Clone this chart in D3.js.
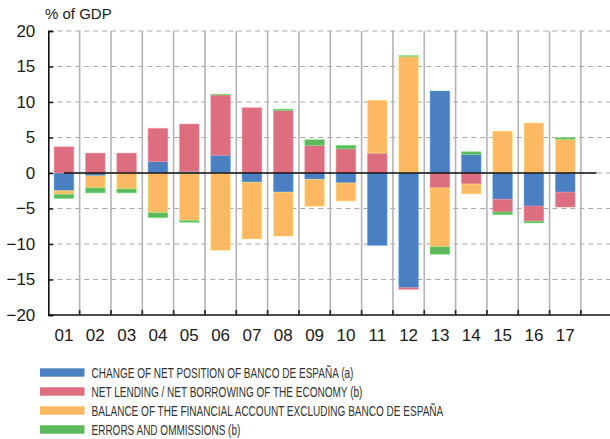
<!DOCTYPE html>
<html><head><meta charset="utf-8">
<script src="https://cdn.jsdelivr.net/npm/d3@7"></script>
<style>
html,body{margin:0;padding:0;background:#fff;}
svg{display:block;}
text{font-family:"Liberation Sans",Arial,sans-serif;fill:#1a1a1a;}
.leg{font-family:"Liberation Sans",Arial,sans-serif;fill:#333;}
</style></head>
<body>
<svg id="c" width="610" height="439"></svg>
<script>
const categories = ["01","02","03","04","05","06","07","08","09","10","11","12","13","14","15","16","17"];
const bdeNet     = [-2.5,-0.4, 0.0, 1.6, 0.2, 2.5,-1.3,-2.7,-0.9,-1.4,-10.2,-16.15,11.55, 2.6,-3.7,-4.65,-2.7];
const netLending = [ 3.7, 2.8, 2.8, 4.7, 6.7, 8.5, 9.2, 8.8, 3.9, 3.4, 2.8, -0.25,-2.1,-1.55,-1.8,-2.15,-2.1];
const finAccount = [-0.5,-1.7,-2.25,-5.6,-6.7,-10.9,-8.0,-6.2,-3.8,-2.55, 7.45, 16.4,-8.3,-1.4, 5.9, 7.05, 4.75];
const errors     = [-0.6,-0.7,-0.55,-0.7,-0.25, 0.1, 0.0, 0.2, 0.8, 0.5, 0.0, 0.15,-1.05, 0.4,-0.38,-0.24, 0.23];
const seriesNames = ["CHANGE OF NET POSITION OF BANCO DE ESPAÑA (a)","NET LENDING / NET BORROWING OF THE ECONOMY (b)","BALANCE OF THE FINANCIAL ACCOUNT EXCLUDING BANCO DE ESPAÑA","ERRORS AND OMMISSIONS (b)"];
const seriesColors = ["#4a80c2","#dc6e80","#fdb863","#5cb85c"];
const yTicks = [20,15,10,5,0,-5,-10,-15,-20];
const yLabel = "% of GDP";

const keys = ["a","b","c","d"];
const rows = categories.map((c,i)=>({cat:c,a:bdeNet[i],b:netLending[i],c:finAccount[i],d:errors[i]}));
const stack = d3.stack().keys(keys).offset(d3.stackOffsetDiverging)(rows);

const svg = d3.select("#c");
const mLeft = 48.3, mTop = 31, mBottom = 315;
const bandW = 31.33;
const domain = [...categories, "__"];
const x = d3.scaleBand().domain(domain).range([mLeft, mLeft + bandW*domain.length]).paddingInner(0.37).paddingOuter(0.185);
const xb = d3.scaleBand().domain(domain).range([mLeft, mLeft + bandW*domain.length]);
const y = d3.scaleLinear().domain([-20,20]).range([mBottom, mTop]);

// horizontal dashed gridlines
svg.append("g").selectAll("line").data(yTicks.filter(t=>t!==-20)).join("line")
  .attr("x1", mLeft).attr("x2", 610).attr("y1", d=>y(d)).attr("y2", d=>y(d))
  .attr("stroke","#a8a8a8").attr("stroke-width",1.2).attr("stroke-dasharray","5,4");

// vertical gridlines at band boundaries
const bounds = domain.slice(1).map(d=>xb(d));
svg.append("g").selectAll("line").data(bounds).join("line")
  .attr("x1", d=>d).attr("x2", d=>d).attr("y1", mTop).attr("y2", mBottom)
  .attr("stroke","#b4b4b8").attr("stroke-width",1.6);

// bars
svg.append("g").selectAll("g").data(stack).join("g")
  .attr("fill",(d,i)=>seriesColors[i])
  .attr("stroke",(d,i)=>d3.color(seriesColors[i]).brighter(0.8))
  .attr("stroke-opacity",0.45)
  .selectAll("rect").data(d=>d).join("rect")
  .attr("x", d=>x(d.data.cat)).attr("width", x.bandwidth())
  .attr("y", d=>y(Math.max(d[0],d[1])))
  .attr("height", d=>Math.abs(y(d[0])-y(d[1])));

// zero line
svg.append("line")
  .attr("x1", xb(categories[0]) + xb.bandwidth()/2).attr("x2", xb("__") + xb.bandwidth()/2)
  .attr("y1", y(0)).attr("y2", y(0)).attr("stroke","#111").attr("stroke-width",1.6);

// y axis
const yAxis = d3.axisLeft(y).tickValues(yTicks).tickSize(-5).tickPadding(13).tickFormat(d3.format("d"));
const gy = svg.append("g").attr("transform",`translate(${mLeft},0)`).call(yAxis);
gy.select(".domain").attr("stroke","#111").attr("stroke-width",1.6);
gy.selectAll(".tick line").attr("stroke","#111").attr("stroke-width",1.4);
gy.selectAll(".tick text").attr("font-size",17).attr("fill","#1a1a1a").style("font-family","'Liberation Sans',Arial,sans-serif");

// x axis
const xAxis = d3.axisBottom(xb).tickValues(categories).tickSize(0).tickPadding(14);
const gx = svg.append("g").attr("transform",`translate(0,${mBottom})`).call(xAxis);
gx.select(".domain").attr("stroke","#111").attr("stroke-width",1.6).attr("d",`M${mLeft},0H610`);
gx.selectAll(".tick text").attr("font-size",17).attr("fill","#1a1a1a").attr("dy","0.71em").style("font-family","'Liberation Sans',Arial,sans-serif");
// inward tick marks at band boundaries
svg.append("g").selectAll("line").data(bounds).join("line")
  .attr("x1", d=>d).attr("x2", d=>d).attr("y1", mBottom).attr("y2", mBottom-5)
  .attr("stroke","#222").attr("stroke-width",1.6);

// y label
svg.append("text").attr("x",45).attr("y",19).attr("font-size",15).attr("fill","#333").text(yLabel);

// legend (text horizontally condensed to the reference's widths)
const legendTextWidths = [262, 271, 352, 149];
const lg = svg.append("g").selectAll("g").data(seriesNames).join("g")
  .attr("transform",(d,i)=>`translate(40,${372.5 + i*19})`);
lg.append("rect").attr("x",0).attr("y",-4.2).attr("width",44.5).attr("height",8.4).attr("fill",(d,i)=>seriesColors[i]);
lg.append("text").attr("class","leg").attr("x",0).attr("y",0).attr("dy","0.36em").attr("font-size",15.5)
  .text(d=>d)
  .each(function(d,i){
    const w = this.getComputedTextLength();
    const s = legendTextWidths[i]/w;
    d3.select(this).attr("transform",`translate(51.5,0) scale(${s},1)`);
  });
</script>
</body></html>
